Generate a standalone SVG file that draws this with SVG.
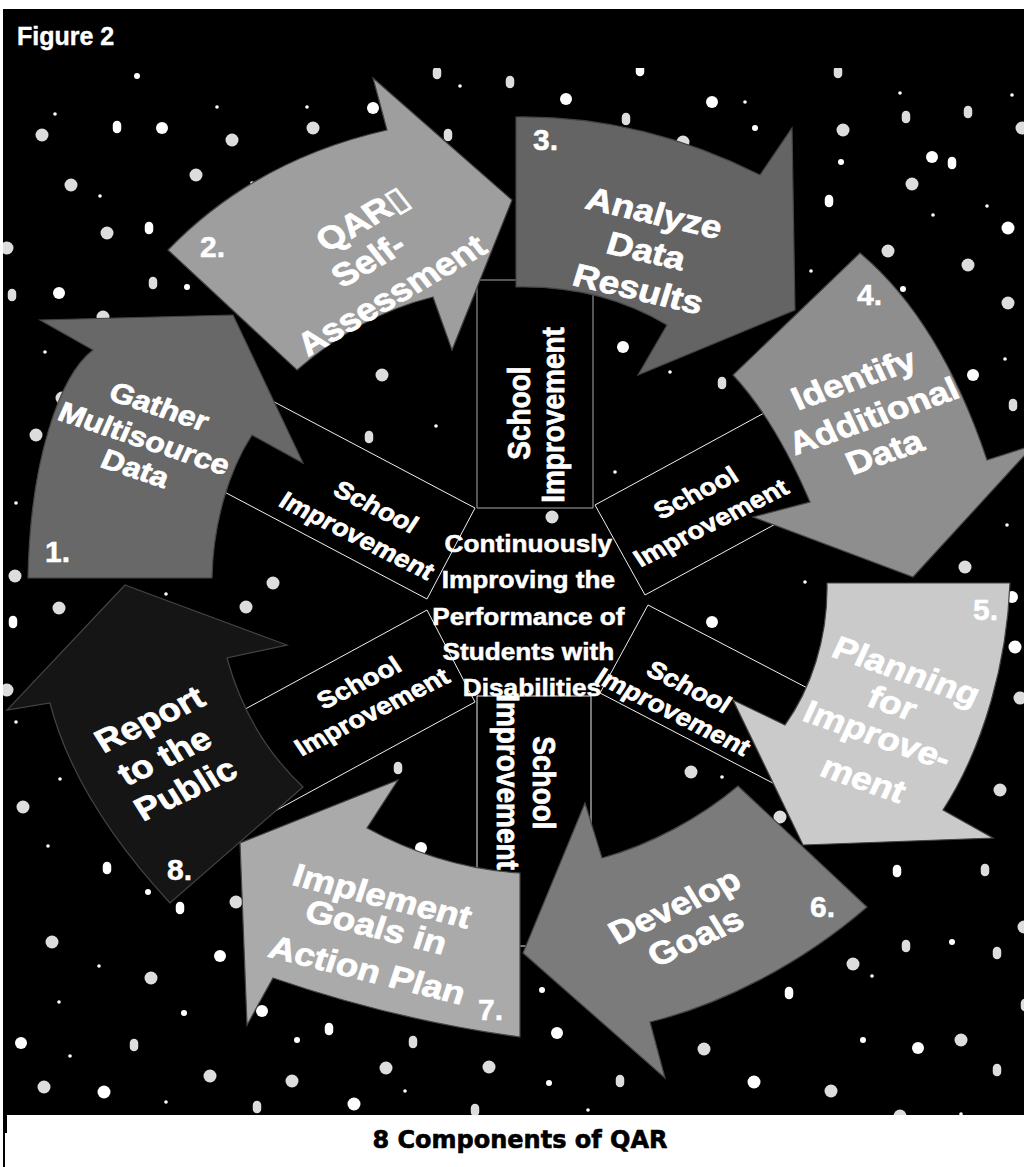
<svg xmlns="http://www.w3.org/2000/svg" width="1024" height="1167" viewBox="0 0 1024 1167">
<style>
.s{fill:#fff}
.t{fill:#fff}
.w{fill:#fff}
.g{fill:#ddd}
.pw{fill:#fff;stroke:#000;stroke-width:1.5}
.pg{fill:#ddd;stroke:#000;stroke-width:1.5}
.spoke{fill:#000;stroke:#eee;stroke-width:1}
.spoketop{fill:#000;stroke:#aaa;stroke-width:1}
.arrow{stroke:#444;stroke-width:1.2}
.lbl{font-family:"Liberation Sans","DejaVu Sans",Arial,sans-serif;font-weight:bold;fill:#fff;stroke:#fff;stroke-width:0.7;text-anchor:middle}
.f24{font-size:24px}
.f28{font-size:28px}
.f32{font-size:32px}
.num{font-family:"Liberation Sans",Arial,sans-serif;font-weight:bold;fill:#fff;stroke:#fff;stroke-width:0.5;font-size:30px}
</style>
<defs>
<clipPath id="field"><rect x="3" y="68" width="1021" height="1047"/></clipPath>
</defs>
<rect x="0" y="0" width="1024" height="1167" fill="#fff"/>
<rect x="3" y="9" width="1021" height="1106" fill="#000"/>
<rect x="3" y="1115" width="4" height="18" fill="#000"/>
<line x1="4" y1="1133" x2="4" y2="1167" stroke="#000" stroke-width="2"/>
<text x="17" y="45" style="font-family:'Liberation Sans',Arial,sans-serif;font-weight:bold;font-size:25px;fill:#fff;stroke:#fff;stroke-width:0.4">Figure 2</text>

<g id="stars" clip-path="url(#field)">
<circle class="t" cx="137" cy="76" r="3"/>
<circle class="s" cx="55" cy="114" r="1.8"/>
<circle class="g" cx="42" cy="135" r="6.5"/>
<rect class="pw" x="112" y="120" width="10" height="14" rx="5"/>
<circle class="w" cx="162" cy="128" r="6"/>
<circle class="s" cx="217" cy="107" r="1.8"/>
<circle class="g" cx="232" cy="140" r="6.5"/>
<circle class="s" cx="307" cy="107" r="1.8"/>
<circle class="g" cx="313" cy="128" r="6.5"/>
<circle class="w" cx="373" cy="108" r="6"/>
<rect class="pg" x="432" y="66" width="10" height="14" rx="5"/>
<circle class="s" cx="460" cy="86" r="1.8"/>
<rect class="pg" x="443" y="128" width="10" height="14" rx="5"/>
<rect class="pg" x="505" y="75" width="10" height="14" rx="5"/>
<circle class="g" cx="71" cy="185" r="6.5"/>
<circle class="s" cx="100" cy="196" r="1.8"/>
<circle class="g" cx="196" cy="175" r="6.5"/>
<circle class="s" cx="252" cy="183" r="1.8"/>
<circle class="g" cx="107" cy="233" r="6.5"/>
<rect class="pw" x="144" y="221" width="10" height="14" rx="5"/>
<circle class="g" cx="7" cy="248" r="6.5"/>
<rect class="pg" x="7" y="288" width="10" height="14" rx="5"/>
<circle class="w" cx="59" cy="293" r="6"/>
<rect class="pg" x="148" y="276" width="10" height="14" rx="5"/>
<circle class="t" cx="187" cy="287" r="3"/>
<circle class="g" cx="103" cy="317" r="6.5"/>
<circle class="w" cx="566" cy="99" r="6"/>
<rect class="pw" x="635" y="63" width="10" height="14" rx="5"/>
<rect class="pg" x="621" y="112" width="10" height="14" rx="5"/>
<circle class="w" cx="712" cy="102" r="6"/>
<circle class="s" cx="745" cy="102" r="1.8"/>
<circle class="t" cx="755" cy="128" r="3"/>
<circle class="g" cx="683" cy="142" r="6.5"/>
<rect class="pg" x="833" y="65" width="10" height="14" rx="5"/>
<circle class="s" cx="900" cy="93" r="1.8"/>
<circle class="s" cx="1012" cy="95" r="1.8"/>
<rect class="pg" x="901" y="110" width="10" height="14" rx="5"/>
<rect class="pg" x="963" y="105" width="10" height="14" rx="5"/>
<circle class="g" cx="843" cy="130" r="6.5"/>
<circle class="g" cx="1022" cy="128" r="6.5"/>
<circle class="w" cx="932" cy="157" r="6"/>
<rect class="pw" x="947" y="156" width="10" height="14" rx="5"/>
<circle class="t" cx="841" cy="162" r="3"/>
<circle class="g" cx="912" cy="184" r="6.5"/>
<rect class="pw" x="824" y="194" width="10" height="14" rx="5"/>
<circle class="s" cx="987" cy="206" r="1.8"/>
<circle class="s" cx="933" cy="215" r="1.8"/>
<circle class="w" cx="1008" cy="228" r="6.5"/>
<circle class="g" cx="888" cy="251" r="6.5"/>
<circle class="g" cx="968" cy="265" r="6.5"/>
<circle class="s" cx="811" cy="271" r="1.8"/>
<circle class="t" cx="903" cy="289" r="3"/>
<circle class="g" cx="1008" cy="303" r="6.5"/>
<circle class="s" cx="45" cy="352" r="1.8"/>
<circle class="g" cx="62" cy="398" r="6.5"/>
<circle class="g" cx="36" cy="435" r="6.5"/>
<circle class="s" cx="16" cy="503" r="1.8"/>
<circle class="g" cx="15" cy="576" r="6.5"/>
<circle class="g" cx="382" cy="375" r="6.5"/>
<circle class="s" cx="436" cy="426" r="1.8"/>
<rect class="pg" x="364" y="430" width="10" height="14" rx="5"/>
<circle class="g" cx="273" cy="583" r="6.5"/>
<circle class="s" cx="166" cy="594" r="1.8"/>
<circle class="g" cx="59" cy="608" r="6.5"/>
<circle class="g" cx="246" cy="607" r="6.5"/>
<rect class="pw" x="8" y="615" width="10" height="14" rx="5"/>
<circle class="g" cx="7" cy="690" r="6.5"/>
<circle class="w" cx="623" cy="347" r="6"/>
<circle class="s" cx="670" cy="372" r="1.8"/>
<rect class="pg" x="717" y="376" width="10" height="14" rx="5"/>
<circle class="s" cx="615" cy="472" r="1.8"/>
<circle class="w" cx="973" cy="375" r="6"/>
<circle class="s" cx="1005" cy="359" r="1.8"/>
<rect class="pg" x="1008" y="398" width="10" height="14" rx="5"/>
<circle class="s" cx="1007" cy="525" r="1.8"/>
<circle class="g" cx="965" cy="567" r="6.5"/>
<circle class="s" cx="805" cy="582" r="1.8"/>
<circle class="w" cx="712" cy="622" r="6"/>
<circle class="w" cx="1012" cy="597" r="6"/>
<circle class="w" cx="1015" cy="647" r="6.5"/>
<circle class="g" cx="1020" cy="698" r="6.5"/>
<circle class="g" cx="1000" cy="790" r="6.5"/>
<circle class="g" cx="691" cy="772" r="6.5"/>
<circle class="s" cx="722" cy="777" r="1.8"/>
<circle class="g" cx="780" cy="817" r="6.5"/>
<circle class="g" cx="552" cy="517" r="6.5"/>
<rect class="pw" x="892" y="864" width="10" height="14" rx="5"/>
<rect class="pg" x="980" y="863" width="10" height="14" rx="5"/>
<rect class="pg" x="901" y="939" width="10" height="14" rx="5"/>
<circle class="t" cx="952" cy="942" r="3"/>
<rect class="pg" x="992" y="946" width="10" height="14" rx="5"/>
<circle class="g" cx="1024" cy="927" r="6.5"/>
<circle class="g" cx="853" cy="964" r="6.5"/>
<circle class="s" cx="872" cy="976" r="1.8"/>
<rect class="pw" x="784" y="986" width="10" height="14" rx="5"/>
<rect class="pg" x="1020" y="998" width="10" height="14" rx="5"/>
<circle class="t" cx="542" cy="990" r="3"/>
<circle class="w" cx="557" cy="1033" r="6"/>
<circle class="g" cx="704" cy="1049" r="6.5"/>
<circle class="t" cx="863" cy="1040" r="3"/>
<circle class="w" cx="918" cy="1048" r="6"/>
<circle class="g" cx="961" cy="1040" r="6.5"/>
<rect class="pg" x="992" y="1063" width="10" height="14" rx="5"/>
<circle class="t" cx="549" cy="1083" r="3"/>
<rect class="pg" x="615" y="1074" width="10" height="14" rx="5"/>
<circle class="w" cx="754" cy="1082" r="6.5"/>
<circle class="g" cx="831" cy="1091" r="6.5"/>
<circle class="s" cx="588" cy="1110" r="1.8"/>
<circle class="g" cx="900" cy="1116" r="6.5"/>
<circle class="s" cx="961" cy="1114" r="1.8"/>
<circle class="s" cx="16" cy="722" r="1.8"/>
<circle class="s" cx="60" cy="779" r="1.8"/>
<circle class="g" cx="23" cy="807" r="6.5"/>
<circle class="s" cx="48" cy="846" r="1.8"/>
<rect class="pw" x="102" y="861" width="10" height="14" rx="5"/>
<circle class="t" cx="148" cy="892" r="3"/>
<rect class="pw" x="175" y="901" width="10" height="14" rx="5"/>
<circle class="g" cx="236" cy="902" r="6.5"/>
<rect class="pg" x="393" y="761" width="10" height="14" rx="5"/>
<circle class="w" cx="421" cy="848" r="6"/>
<circle class="g" cx="52" cy="942" r="6.5"/>
<circle class="w" cx="220" cy="956" r="6"/>
<circle class="s" cx="99" cy="966" r="1.8"/>
<circle class="g" cx="151" cy="978" r="6.5"/>
<circle class="s" cx="59" cy="1002" r="1.8"/>
<circle class="t" cx="184" cy="1013" r="3"/>
<circle class="w" cx="262" cy="1011" r="6"/>
<circle class="w" cx="21" cy="1043" r="6"/>
<rect class="pg" x="129" y="1038" width="10" height="14" rx="5"/>
<circle class="s" cx="70" cy="1056" r="1.8"/>
<circle class="t" cx="297" cy="1040" r="3"/>
<rect class="pw" x="324" y="1022" width="10" height="14" rx="5"/>
<rect class="pg" x="408" y="1035" width="10" height="14" rx="5"/>
<circle class="g" cx="386" cy="1068" r="6.5"/>
<circle class="g" cx="489" cy="1067" r="6.5"/>
<circle class="g" cx="44" cy="1087" r="6.5"/>
<circle class="w" cx="104" cy="1092" r="6.5"/>
<circle class="g" cx="210" cy="1076" r="6.5"/>
<circle class="g" cx="292" cy="1081" r="6.5"/>
<circle class="s" cx="405" cy="1091" r="1.8"/>
<circle class="s" cx="166" cy="1102" r="1.8"/>
<rect class="pg" x="252" y="1100" width="10" height="14" rx="5"/>
<circle class="w" cx="354" cy="1104" r="6.5"/>
<rect class="pg" x="470" y="1103" width="10" height="14" rx="5"/>
</g>

<g id="connectors">
<g id="spoke-top">
<polygon class="spoketop" points="477,280 593,280 593,508 477,508"/>
<text class="lbl f28" transform="translate(520,413) scale(1.15,1) rotate(-90)" y="9">School</text>
<text class="lbl f28" transform="translate(554,415) scale(1.15,1) rotate(-90)" y="9">Improvement</text>
</g>
<g id="spoke-upper-right">
<polygon class="spoke" points="595,505 645,595 838,490 788,400"/>
<text class="lbl f24" transform="translate(696,493) scale(1.15,1) rotate(-30)" y="8">School</text>
<text class="lbl f24" transform="translate(711,523) scale(1.15,1) rotate(-30)" y="8">Improvement</text>
</g>
<g id="spoke-lower-right">
<polygon class="spoke" points="648,605 600,693 813,804 861,716"/>
<text class="lbl f24" transform="translate(689,687) scale(1.15,1) rotate(30)" y="8">School</text>
<text class="lbl f24" transform="translate(673,712) scale(1.15,1) rotate(30)" y="8">Improvement</text>
</g>
<g id="spoke-bottom">
<polygon class="spoke" points="477,696 591,696 591,946 477,946"/>
<text class="lbl f28" transform="translate(543,783) scale(1.15,1) rotate(90)" y="9">School</text>
<text class="lbl f28" transform="translate(507,782) scale(1.15,1) rotate(90)" y="9">Improvement</text>
</g>
<g id="spoke-lower-left">
<polygon class="spoke" points="427,610 475,702 264,817 216,725"/>
<text class="lbl f24" transform="translate(359,683) scale(1.15,1) rotate(-30)" y="8">School</text>
<text class="lbl f24" transform="translate(372,712) scale(1.15,1) rotate(-30)" y="8">Improvement</text>
</g>
<g id="spoke-upper-left">
<polygon class="spoke" points="475,508 427,599 215,487 263,396"/>
<text class="lbl f24" transform="translate(376,507) scale(1.15,1) rotate(30)" y="8">School</text>
<text class="lbl f24" transform="translate(357,536) scale(1.15,1) rotate(30)" y="8">Improvement</text>
</g>
</g>

<g id="arrow-1">
<path class="arrow" fill="#686868" d="M28,578 L212,578 C213,525 228,472 252,435 L303,463 L233,315 L40,320 L93,350 C60,375 30,460 28,578 Z"/>
<text class="lbl f28" transform="translate(159,407) scale(1.15,1) rotate(21)" y="9">Gather</text>
<text class="lbl f28" transform="translate(144,439) scale(1.15,1) rotate(21)" y="9">Multisource</text>
<text class="lbl f28" transform="translate(135,469) scale(1.15,1) rotate(21)" y="9">Data</text>
<text class="num" x="45" y="562">1.</text>
</g>
<g id="arrow-2">
<path class="arrow" fill="#9e9e9e" d="M168,250 Q255,160 387,130 L373,78 L512,200 L452,350 L433,297 Q360,315 297,370 Z"/>
<text class="lbl f32" transform="translate(363,220) scale(1.16,1) rotate(-34)" y="10">QAR▯</text>
<text class="lbl f32" transform="translate(369,261) scale(1.16,1) rotate(-34)" y="10">Self-</text>
<text class="lbl f32" transform="translate(392,296) scale(1.16,1) rotate(-34)" y="10">Assessment</text>
<text class="num" x="200" y="257">2.</text>
</g>
<g id="arrow-3">
<path class="arrow" fill="#646464" d="M516,117 Q640,115 760,175 L792,128 L795,310 L638,375 L667,325 Q600,285 516,287 Z"/>
<text class="lbl f32" transform="translate(654,214) scale(1.15,1) rotate(15)" y="10">Analyze</text>
<text class="lbl f32" transform="translate(646,252) scale(1.15,1) rotate(15)" y="10">Data</text>
<text class="lbl f32" transform="translate(638,290) scale(1.15,1) rotate(15)" y="10">Results</text>
<text class="num" x="533" y="150">3.</text>
</g>
<g id="arrow-4">
<path class="arrow" fill="#8e8e8e" d="M860,253 L733,375 Q775,420 810,502 L753,517 L913,577 L1034,445 L987,460 Q940,320 860,253 Z"/>
<text class="lbl f32" transform="translate(854,380) scale(1.15,1) rotate(-22)" y="10">Identify</text>
<text class="lbl f32" transform="translate(874,417) scale(1.15,1) rotate(-22)" y="10">Additional</text>
<text class="lbl f32" transform="translate(885,453) scale(1.15,1) rotate(-22)" y="10">Data</text>
<text class="num" x="857" y="305">4.</text>
</g>
<g id="arrow-5">
<path class="arrow" fill="#cacaca" d="M827,583 L1010,583 C1007,660 985,745 943,810 L993,838 L803,845 L733,700 L785,725 C810,690 828,640 827,583 Z"/>
<text class="lbl f32" transform="translate(906,672) scale(1.15,1) rotate(22)" y="10">Planning</text>
<text class="lbl f32" transform="translate(892,704) scale(1.15,1) rotate(22)" y="10">for</text>
<text class="lbl f32" transform="translate(877,736) scale(1.15,1) rotate(22)" y="10">Improve-</text>
<text class="lbl f32" transform="translate(863,780) scale(1.15,1) rotate(22)" y="10">ment</text>
<text class="num" x="973" y="620">5.</text>
</g>
<g id="arrow-6">
<path class="arrow" fill="#7b7b7b" d="M738,786 L867,907 C800,965 720,1005 650,1022 L665,1078 L523,953 L585,803 L602,858 C650,845 700,818 738,786 Z"/>
<text class="lbl f32" transform="translate(675,907) scale(1.15,1) rotate(-28)" y="10">Develop</text>
<text class="lbl f32" transform="translate(696,938) scale(1.15,1) rotate(-28)" y="10">Goals</text>
<text class="num" x="810" y="917">6.</text>
</g>
<g id="arrow-7">
<path class="arrow" fill="#aaaaaa" d="M520,873 L520,1037 Q395,1020 273,978 L247,1025 L240,843 L398,780 L367,828 Q440,868 520,873 Z"/>
<text class="lbl f32" transform="translate(382,897) scale(1.15,1) rotate(16)" y="10">Implement</text>
<text class="lbl f32" transform="translate(376,928) scale(1.15,1) rotate(16)" y="10">Goals in</text>
<text class="lbl f32" transform="translate(367,971) scale(1.15,1) rotate(16)" y="10">Action Plan</text>
<text class="num" x="478" y="1020">7.</text>
</g>
<g id="arrow-8">
<path class="arrow" fill="#151515" d="M125,585 L287,645 L227,658 Q248,735 303,787 L170,903 Q75,800 50,703 L7,710 Z"/>
<text class="lbl f32" transform="translate(150,720) scale(1.15,1) rotate(-28.6)" y="10">Report</text>
<text class="lbl f32" transform="translate(165,757) scale(1.15,1) rotate(-28.6)" y="10">to the</text>
<text class="lbl f32" transform="translate(186,790) scale(1.15,1) rotate(-28.6)" y="10">Public</text>
<text class="num" x="167" y="880">8.</text>
</g>

<g id="center">
<text class="lbl" style="font-size:23px;stroke-width:0.5" transform="translate(532,0) scale(1.14,1)">
<tspan x="0" y="552">Continuously</tspan>
<tspan x="0" y="588">Improving the</tspan>
<tspan x="0" y="625">Performance of</tspan>
<tspan x="0" y="660">Students with</tspan>
<tspan x="0" y="696">Disabilities</tspan>
</text>
</g>

<text x="520" y="1148" style="font-family:'DejaVu Sans',sans-serif;font-weight:bold;font-size:24px;fill:#000;stroke:#000;stroke-width:0.6;text-anchor:middle">8 Components of QAR</text>
</svg>
